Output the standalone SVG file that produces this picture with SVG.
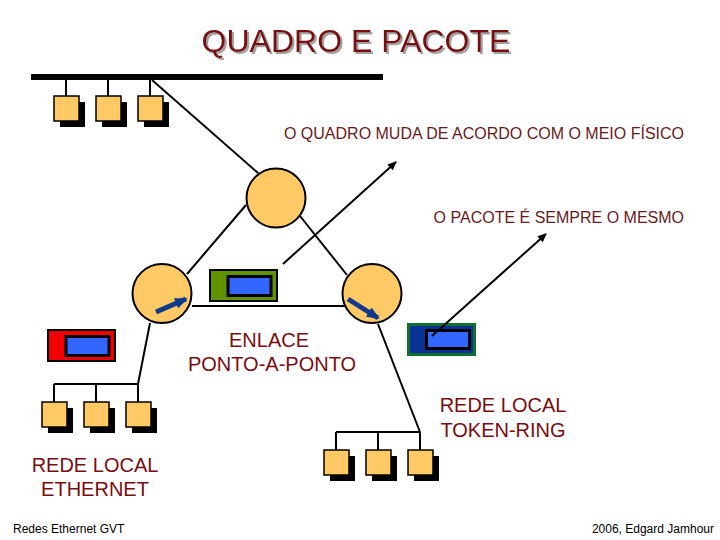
<svg xmlns="http://www.w3.org/2000/svg" width="720" height="540" viewBox="0 0 720 540">
<style>
.t{font-family:"Liberation Sans",Arial,sans-serif;fill:#7a0c10}
.m{fill:#6b1a1c}
.l{stroke:#000;stroke-width:2;fill:none}
.a{stroke:#000;stroke-width:2;fill:none;marker-end:url(#k)}
.c{fill:#ffc966;stroke:#000;stroke-width:2}
.s{fill:#000}
.b{fill:#ffc966;stroke:#000;stroke-width:1.5}
.i{fill:#3366ff;stroke:#000;stroke-width:3}
.f{stroke:#000;stroke-width:2}
.ba{stroke:#0f3a8c;stroke-width:5;fill:none;marker-end:url(#bk)}
</style>
<defs>
<marker id="k" markerUnits="userSpaceOnUse" markerWidth="9" markerHeight="8" refX="8" refY="4" orient="auto"><path d="M0 0L9 4L0 8z" fill="#000"/></marker>
<marker id="bk" markerUnits="userSpaceOnUse" markerWidth="13" markerHeight="11" refX="11" refY="5.500" orient="auto"><path d="M0 0L13 5.500L0 11z" fill="#0f3a8c"/></marker>
<filter id="sh" x="-5%" y="-20%" width="110%" height="140%"><feDropShadow dx="2" dy="2" stdDeviation="0" flood-color="#a0a0a0"/></filter>
<g id="pc"><rect class="s" x="6" y="6" width="25" height="25"/><rect class="b" x="0" y="0" width="25" height="25"/></g>
</defs>
<g id="connectors">
<rect x="31" y="74" width="352" height="6" fill="#000"/>
<path class="l" d="M66 80V96M108 80V96M150 80V96"/>
<path class="l" d="M152 80L258 173"/>
<path class="l" d="M246 205L187 274M300 216L347 275M192 306H345"/>
<path class="l" d="M150 323L138 384M54 384H138M54 384V402M96 384V402M138 384V402"/>
<path class="l" d="M378 324L420 432M336 432H420M336 432V450M378 432V450M420 432V450"/>
<path class="a" d="M283 264L396 162"/>
</g>
<g id="pcs-top"><use href="#pc" x="54" y="96"/><use href="#pc" x="96" y="96"/><use href="#pc" x="138" y="96"/></g>
<g id="pcs-eth"><use href="#pc" x="42" y="402"/><use href="#pc" x="84" y="402"/><use href="#pc" x="126" y="402"/></g>
<g id="pcs-token"><use href="#pc" x="324" y="450"/><use href="#pc" x="366" y="450"/><use href="#pc" x="408" y="450"/></g>
<g id="router-top"><circle class="c" cx="276" cy="198" r="29.500"/></g>
<g id="router-left"><circle class="c" cx="162" cy="293.500" r="29.500"/><path class="ba" d="M156 312L186 299"/></g>
<g id="router-right"><circle class="c" cx="372" cy="293.500" r="29.500"/><path class="ba" d="M348 299L378 318"/></g>
<g id="frame-green"><rect class="f" x="210" y="270" width="67" height="31" fill="#5f9400"/><rect class="i" x="228" y="276.500" width="43" height="19"/></g>
<g id="frame-red"><rect class="f" x="48" y="330" width="67" height="31" fill="#f00000"/><rect class="i" x="66" y="336.500" width="43" height="19"/></g>
<g id="frame-token"><rect x="408.500" y="324.500" width="66" height="30" fill="#0a3296" stroke="#0f7030" stroke-width="3"/><rect class="i" x="426.500" y="330.500" width="43" height="18" stroke="#050a50"/></g>
<path class="a" d="M432 336L546 234"/>
<g id="title">
<text class="t" x="356" y="52" text-anchor="middle" font-size="32" filter="url(#sh)">QUADRO E PACOTE</text>
</g>
<g id="labels">
<text class="t m" x="684" y="139" text-anchor="end" font-size="16">O QUADRO MUDA DE ACORDO COM O MEIO FÍSICO</text>
<text class="t m" x="684" y="223" text-anchor="end" font-size="16">O PACOTE É SEMPRE O MESMO</text>
<text class="t" x="269" y="347" text-anchor="middle" font-size="20">ENLACE</text>
<text class="t" x="272" y="371" text-anchor="middle" font-size="20">PONTO-A-PONTO</text>
<text class="t" x="503" y="412" text-anchor="middle" font-size="20">REDE LOCAL</text>
<text class="t" x="503" y="437" text-anchor="middle" font-size="20">TOKEN-RING</text>
<text class="t" x="95" y="472" text-anchor="middle" font-size="20">REDE LOCAL</text>
<text class="t" x="95" y="496" text-anchor="middle" font-size="20">ETHERNET</text>
<text x="13" y="533" font-size="12" font-family="Liberation Sans,sans-serif" fill="#000">Redes Ethernet GVT</text>
<text x="714" y="533" text-anchor="end" font-size="12" font-family="Liberation Sans,sans-serif" fill="#000">2006, Edgard Jamhour</text>
</g>
</svg>
